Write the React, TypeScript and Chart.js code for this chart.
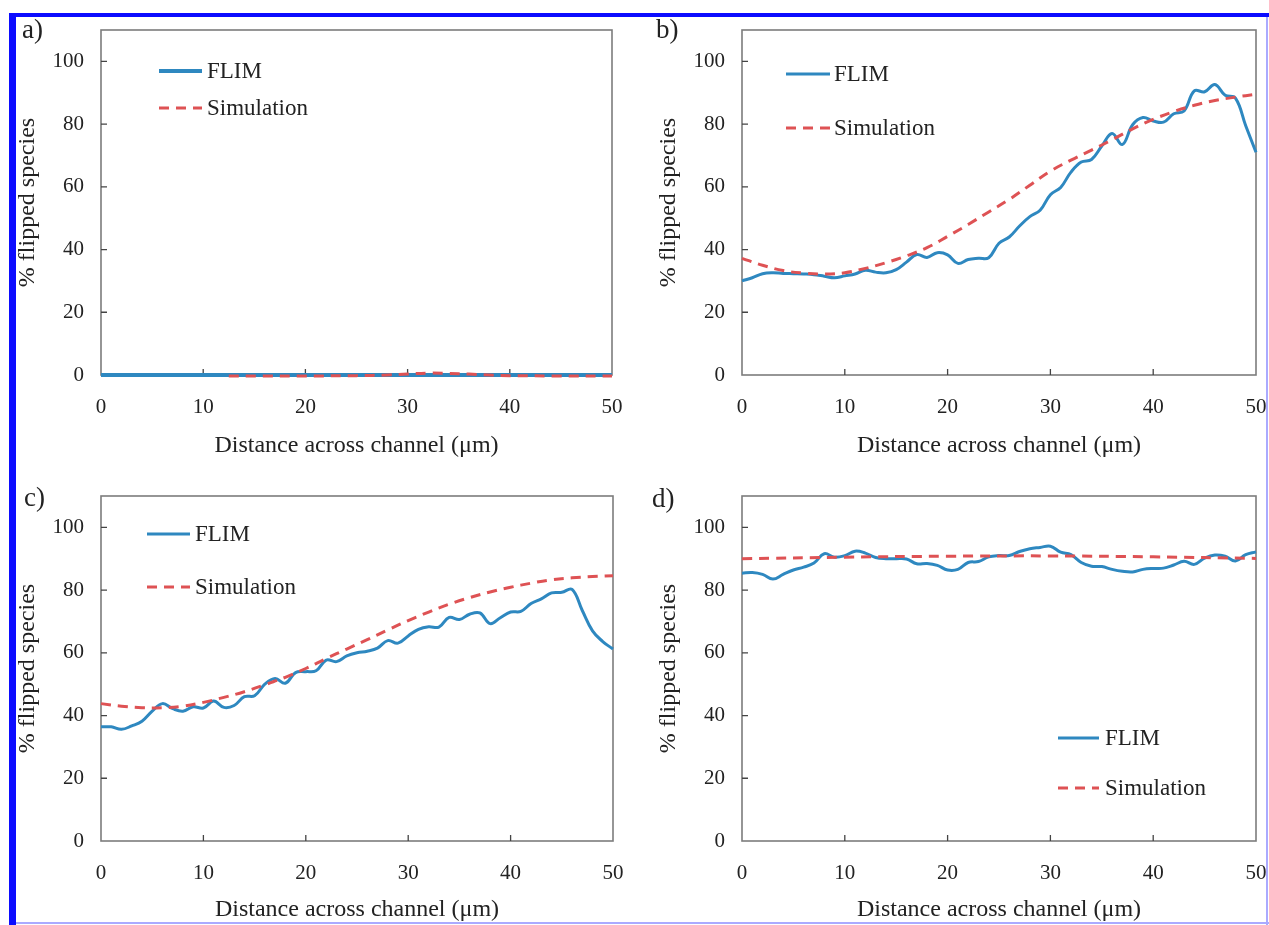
import React, { useEffect, useRef } from 'react';
import { Chart, registerables } from 'chart.js';

Chart.register(...registerables);

// ---------- data ----------
const xTickValues = [0, 10, 20, 30, 40, 50];
const yTickValues = [0, 20, 40, 60, 80, 100];

const flimX = [0, 1, 2, 3, 4, 5, 6, 7, 8, 9, 10, 11, 12, 13, 14, 15, 16, 17, 18, 19, 20, 21, 22, 23, 24, 25, 26, 27, 28, 29, 30, 31, 32, 33, 34, 35, 36, 37, 38, 39, 40, 41, 42, 43, 44, 45, 46, 47, 48, 49, 50];
const simX = [0, 2, 4, 6, 8, 10, 12, 14, 16, 18, 20, 22, 24, 26, 28, 30, 32, 34, 36, 38, 40, 42, 44, 46, 48, 50];

// panel a
const flimAX = [0, 10, 20, 30, 40, 50];
const flimA = [0, 0, 0, 0, 0, 0];
const simAX = [12.5, 15, 20, 25, 28, 30, 32, 34, 36, 38, 40, 45, 50];
const simA = [-0.3, -0.3, -0.3, -0.2, 0, 0.3, 0.6, 0.5, 0.3, 0, -0.2, -0.3, -0.3];

// panel b
const flimB = [30, 31, 32.3, 32.6, 32.4, 32.3, 32.2, 32.0, 31.5, 31.0, 31.6, 32.2, 33.4, 32.8, 32.6, 33.6, 36.0, 38.4, 37.5, 39.0, 38.3, 35.6, 36.8, 37.2, 37.4, 42.0, 44.0, 47.5, 50.5, 52.5, 57.5, 59.8, 64.7, 67.9, 68.7, 73.0, 77.0, 73.5, 79.8, 82.1, 81.0, 80.6, 83.3, 84.2, 90.6, 90.3, 92.6, 89.2, 88.3, 79.5, 71.0];
const simB = [37.2, 35.0, 33.3, 32.5, 32.2, 32.6, 34.0, 35.8, 38.0, 40.6, 44.2, 48.0, 52.0, 56.0, 60.5, 65.0, 68.5, 71.7, 75.0, 78.5, 81.5, 84.0, 86.0, 87.5, 88.6, 89.5];

// panel c
const flimC = [36.4, 36.4, 35.6, 36.7, 38.2, 41.4, 43.8, 42.2, 41.4, 42.8, 42.4, 44.6, 42.6, 43.2, 46.0, 46.3, 50.0, 51.8, 50.3, 53.7, 54.0, 54.3, 57.7, 57.2, 59.0, 60.0, 60.5, 61.5, 63.9, 63.1, 65.4, 67.5, 68.3, 68.2, 71.3, 70.6, 72.3, 72.7, 69.3, 71.2, 73.0, 73.2, 75.7, 77.2, 79.1, 79.3, 80.2, 73.5, 67.0, 63.6, 61.2];
const simC = [43.8, 43.0, 42.5, 42.5, 43.0, 44.2, 45.8, 47.6, 49.8, 52.2, 55.0, 58.2, 61.2, 64.2, 67.3, 70.3, 73.0, 75.5, 77.6, 79.4, 80.9, 82.2, 83.3, 83.9, 84.3, 84.6];

// panel d
const flimD = [85.4, 85.6, 85.0, 83.5, 85.0, 86.4, 87.3, 88.6, 91.6, 90.5, 91.0, 92.4, 91.8, 90.4, 90.0, 90.0, 89.9, 88.4, 88.5, 87.9, 86.4, 86.6, 88.8, 89.1, 90.6, 91.0, 91.0, 92.3, 93.2, 93.6, 94.0, 92.1, 91.3, 88.8, 87.6, 87.5, 86.6, 86.0, 85.8, 86.6, 86.9, 87.0, 88.0, 89.2, 88.2, 90.2, 91.2, 90.8, 89.3, 91.3, 92.2];
const simDX = [0, 10, 20, 30, 40, 50];
const simD = [90.0, 90.5, 90.8, 90.9, 90.6, 90.1];

const seriesLabels = ['FLIM', 'Simulation'];
const panelLetters = ['a)', 'b)', 'c)', 'd)'];

// ---------- styles ----------
const FONT = '"Liberation Serif", "Times New Roman", serif';
const BLUE = '#2E88C0';
const RED = '#DE5254';
const TEXT = '#222222';
const FRAME = '#7c7c7c';

type Spec = {
  cx: number; cy: number; cw: number; ch: number;
  L: number; T: number; R: number; B: number;
  yTitleX: number; xTitleY: number;
  fx: number[]; fy: number[]; sx: number[]; sy: number[];
  flimWidth: number;
  leg: { x0: number; x1: number; tx: number; y1: number; y2: number };
};

const specs: Spec[] = [
  { cx: 0, cy: 0, cw: 634, ch: 464, L: 101, T: 30, R: 612, B: 375, yTitleX: 28, xTitleY: 446,
    fx: flimAX, fy: flimA, sx: simAX, sy: simA, flimWidth: 4,
    leg: { x0: 58, x1: 101, tx: 106, y1: 41, y2: 78 } },
  { cx: 640, cy: 0, cw: 629, ch: 464, L: 742, T: 30, R: 1256, B: 375, yTitleX: 669, xTitleY: 446,
    fx: flimX, fy: flimB, sx: simX, sy: simB, flimWidth: 3,
    leg: { x0: 44, x1: 88, tx: 92, y1: 44, y2: 98 } },
  { cx: 0, cy: 464, cw: 634, ch: 461, L: 101, T: 496, R: 613, B: 841, yTitleX: 28, xTitleY: 910,
    fx: flimX, fy: flimC, sx: simX, sy: simC, flimWidth: 3,
    leg: { x0: 46, x1: 89, tx: 94, y1: 38, y2: 91 } },
  { cx: 640, cy: 464, cw: 629, ch: 461, L: 742, T: 496, R: 1256, B: 841, yTitleX: 669, xTitleY: 910,
    fx: flimX, fy: flimD, sx: simDX, sy: simD, flimWidth: 3,
    leg: { x0: 316, x1: 357, tx: 363, y1: 242, y2: 292 } },
];

const letterPos = [
  { left: 22, top: 16 },
  { left: 656, top: 16 },
  { left: 24, top: 484 },
  { left: 652, top: 485 },
];

// ---------- plugins ----------
const framePlugin = {
  id: 'frameTicks',
  beforeDatasetsDraw(chart: any) {
    const { ctx, chartArea } = chart;
    const { left, top, right, bottom } = chartArea;
    const xs = chart.scales.x;
    const ys = chart.scales.y;
    ctx.save();
    ctx.strokeStyle = FRAME;
    ctx.lineWidth = 1.6;
    ctx.strokeRect(left, top, right - left, bottom - top);
    ctx.strokeStyle = '#444';
    ctx.lineWidth = 1.3;
    ctx.beginPath();
    xs.ticks.forEach((t: any) => {
      if (t.value > xs.min && t.value < xs.max) {
        const px = xs.getPixelForValue(t.value);
        ctx.moveTo(px, bottom);
        ctx.lineTo(px, bottom - 6);
      }
    });
    ys.ticks.forEach((t: any) => {
      if (t.value > ys.min) {
        const py = ys.getPixelForValue(t.value);
        ctx.moveTo(left, py);
        ctx.lineTo(left + 6, py);
      }
    });
    ctx.stroke();
    ctx.restore();
  },
};

const legendPlugin = {
  id: 'insideLegend',
  afterDatasetsDraw(chart: any, _args: any, opts: any) {
    const { ctx, chartArea } = chart;
    const ds = chart.data.datasets;
    const ys = [opts.y1, opts.y2];
    ctx.save();
    ds.forEach((d: any, i: number) => {
      const y = chartArea.top + ys[i];
      ctx.beginPath();
      ctx.strokeStyle = d.borderColor;
      ctx.lineWidth = d.borderWidth;
      ctx.setLineDash(d.borderDash || []);
      ctx.moveTo(chartArea.left + opts.x0, y);
      ctx.lineTo(chartArea.left + opts.x1, y);
      ctx.stroke();
      ctx.setLineDash([]);
      ctx.fillStyle = TEXT;
      ctx.font = `23px ${FONT}`;
      ctx.textBaseline = 'middle';
      ctx.textAlign = 'left';
      ctx.fillText(d.label, chartArea.left + opts.tx, y + 1);
    });
    ctx.restore();
  },
};

function Panel({ spec }: { spec: Spec }) {
  const ref = useRef<HTMLCanvasElement | null>(null);
  useEffect(() => {
    if (!ref.current) return;
    const lh = 24 * 1.2;
    const chart = new Chart(ref.current, {
      type: 'line',
      data: {
        datasets: [
          {
            label: seriesLabels[0],
            data: spec.fx.map((x, i) => ({ x, y: spec.fy[i] })),
            borderColor: BLUE,
            borderWidth: spec.flimWidth,
            pointRadius: 0,
            tension: 0.4,
            fill: false,
            order: 1,
            clip: 10,
          } as any,
          {
            label: seriesLabels[1],
            data: spec.sx.map((x, i) => ({ x, y: spec.sy[i] })),
            borderColor: RED,
            borderWidth: 3,
            borderDash: [10, 7],
            pointRadius: 0,
            tension: 0.4,
            fill: false,
            order: 0,
            clip: 10,
          } as any,
        ],
      },
      options: {
        responsive: false,
        animation: false,
        events: [],
        layout: {
          padding: { left: 0, top: spec.T - spec.cy, right: spec.cx + spec.cw - spec.R, bottom: 0 },
        },
        plugins: {
          legend: { display: false },
          tooltip: { enabled: false },
          insideLegend: spec.leg,
        } as any,
        scales: {
          x: {
            type: 'linear',
            min: 0,
            max: 50,
            grid: { display: false, drawTicks: false },
            border: { display: false },
            ticks: { font: { family: FONT, size: 21 }, color: TEXT, padding: 19.4, maxRotation: 0, autoSkip: false },
            afterBuildTicks: (s: any) => { s.ticks = xTickValues.map((v) => ({ value: v })); },
            afterFit: (s: any) => {
              s.height = spec.cy + spec.ch - spec.B;
              s.paddingLeft = 0;
              s.paddingRight = 0;
            },
            title: {
              display: true,
              text: 'Distance across channel (μm)',
              font: { family: FONT, size: 24 },
              color: TEXT,
              padding: { top: 0, bottom: spec.cy + spec.ch - lh / 2 - spec.xTitleY },
            },
          },
          y: {
            type: 'linear',
            min: 0,
            max: 110,
            grid: { display: false, drawTicks: false },
            border: { display: false },
            ticks: { font: { family: FONT, size: 21 }, color: TEXT, padding: 17, autoSkip: false },
            afterBuildTicks: (s: any) => { s.ticks = yTickValues.map((v) => ({ value: v })); },
            afterFit: (s: any) => {
              s.width = spec.L - spec.cx;
              s.paddingTop = 0;
              s.paddingBottom = 0;
            },
            title: {
              display: true,
              text: '% flipped species',
              font: { family: FONT, size: 24 },
              color: TEXT,
              padding: { top: spec.yTitleX - spec.cx - lh / 2, bottom: 0 },
            },
          },
        } as any,
      },
      plugins: [framePlugin, legendPlugin],
    } as any);
    return () => chart.destroy();
  }, []);
  return (
    <canvas
      ref={ref}
      width={spec.cw}
      height={spec.ch}
      style={{ position: 'absolute', left: spec.cx, top: spec.cy, width: spec.cw, height: spec.ch }}
    />
  );
}

export default function App() {
  return (
    <div style={{ position: 'absolute', left: 0, top: 0, width: 1269, height: 925, background: '#fff', overflow: 'hidden' }}>
      {specs.map((s, i) => <Panel key={i} spec={s} />)}
      {panelLetters.map((t, i) => (
        <div key={t} style={{ position: 'absolute', left: letterPos[i].left, top: letterPos[i].top, fontFamily: FONT, fontSize: 27, lineHeight: '27px', color: TEXT }}>{t}</div>
      ))}
      <div style={{ position: 'absolute', left: 9, top: 13, width: 7, height: 912, background: '#0c0cff' }} />
      <div style={{ position: 'absolute', left: 9, top: 13, width: 1260, height: 4, background: '#0c0cff' }} />
      <div style={{ position: 'absolute', left: 1266, top: 17, width: 2, height: 908, background: '#aaaaff' }} />
      <div style={{ position: 'absolute', left: 16, top: 922, width: 1253, height: 2, background: '#aaaaff' }} />
    </div>
  );
}
